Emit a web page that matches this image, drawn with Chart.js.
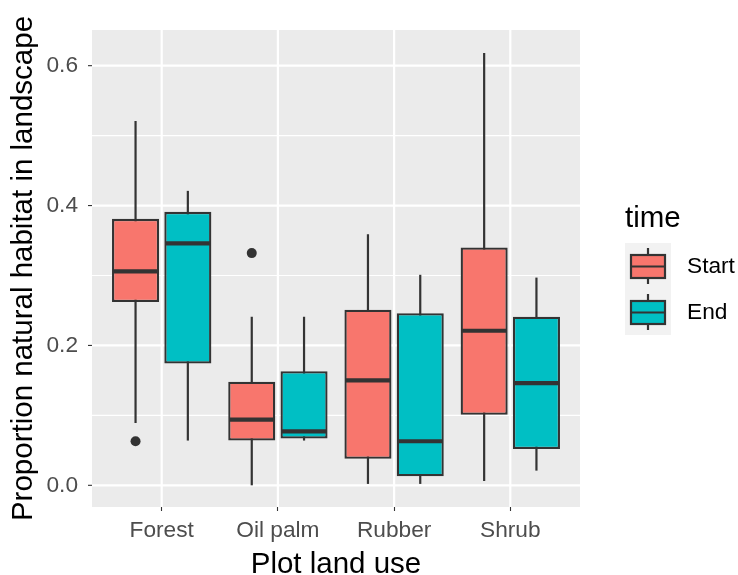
<!DOCTYPE html>
<html><head><meta charset="utf-8">
<script src="https://cdn.jsdelivr.net/npm/chart.js@4/dist/chart.umd.min.js"></script>
<style>html,body{margin:0;padding:0;background:#fff}#wrap{width:738px;height:575px}</style>
</head><body><div id="wrap"><canvas id="c" width="738" height="575"></canvas></div>
<script>
const categories = ['Forest', 'Oil palm', 'Rubber', 'Shrub'];
const seriesNames = ['Start', 'End'];
const startLower  = [0.089, 0.000, 0.002, 0.006];
const startQ1     = [0.262, 0.064, 0.038, 0.101];
const startMedian = [0.306, 0.094, 0.150, 0.221];
const startQ3     = [0.381, 0.148, 0.251, 0.340];
const startUpper  = [0.521, 0.241, 0.359, 0.618];
const startOutliers = [[0.063], [0.332], [], []];
const endLower  = [0.064, 0.064, 0.002, 0.021];
const endQ1     = [0.174, 0.067, 0.013, 0.052];
const endMedian = [0.346, 0.077, 0.063, 0.146];
const endQ3     = [0.391, 0.163, 0.246, 0.241];
const endUpper  = [0.421, 0.241, 0.301, 0.297];
const endOutliers = [[], [], [], []];
const yTicks = [0, 0.2, 0.4, 0.6];
const yMinor = [0.1, 0.3, 0.5];
const yTitle = 'Proportion natural habitat in landscape';
const xTitle = 'Plot land use';
const legendTitle = 'time';

const FONT = "'Liberation Sans', Arial, sans-serif";
const fills = ['#F8766D', '#00BFC4'];
const dark = '#333333';

const stats = [
  {lower: startLower, q1: startQ1, median: startMedian, q3: startQ3, upper: startUpper, out: startOutliers},
  {lower: endLower, q1: endQ1, median: endMedian, q3: endQ3, upper: endUpper, out: endOutliers}
];

const ggPlugin = {
  id: 'gg',
  beforeDraw(chart) {
    const ctx = chart.ctx, xs = chart.scales.x, ys = chart.scales.y, ca = chart.chartArea;
    const pl = xs.getPixelForValue(-0.6), pr = xs.getPixelForValue(categories.length - 0.4);
    ctx.save();
    ctx.fillStyle = '#EBEBEB';
    ctx.fillRect(pl, ca.top, pr - pl, ca.bottom - ca.top);
    ctx.strokeStyle = '#FFFFFF';
    ctx.lineWidth = 1.1;
    yMinor.forEach(v => { const y = ys.getPixelForValue(v); ctx.beginPath(); ctx.moveTo(pl, y); ctx.lineTo(pr, y); ctx.stroke(); });
    ctx.lineWidth = 2.2;
    yTicks.forEach(v => { const y = ys.getPixelForValue(v); ctx.beginPath(); ctx.moveTo(pl, y); ctx.lineTo(pr, y); ctx.stroke(); });
    categories.forEach((c, i) => { const x = xs.getPixelForValue(i); ctx.beginPath(); ctx.moveTo(x, ca.top); ctx.lineTo(x, ca.bottom); ctx.stroke(); });
    ctx.strokeStyle = dark; ctx.lineWidth = 1.1;
    yTicks.forEach(v => { const y = ys.getPixelForValue(v); ctx.beginPath(); ctx.moveTo(pl - 4, y); ctx.lineTo(pl, y); ctx.stroke(); });
    ctx.restore();
  },
  beforeDatasetsDraw(chart) {
    const ctx = chart.ctx, ys = chart.scales.y;
    ctx.save();
    ctx.strokeStyle = dark; ctx.lineWidth = 2.2;
    stats.forEach((s, d) => {
      chart.getDatasetMeta(d).data.forEach((el, i) => {
        ctx.beginPath();
        ctx.moveTo(el.x, ys.getPixelForValue(s.lower[i]));
        ctx.lineTo(el.x, ys.getPixelForValue(s.upper[i]));
        ctx.stroke();
      });
    });
    ctx.restore();
  },
  afterDatasetsDraw(chart) {
    const ctx = chart.ctx, ys = chart.scales.y;
    ctx.save();
    stats.forEach((s, d) => {
      chart.getDatasetMeta(d).data.forEach((el, i) => {
        const w = el.width / 2;
        ctx.strokeStyle = dark; ctx.lineWidth = 4.2;
        const y = ys.getPixelForValue(s.median[i]);
        ctx.beginPath(); ctx.moveTo(el.x - w + 1, y); ctx.lineTo(el.x + w - 1, y); ctx.stroke();
        ctx.fillStyle = dark;
        s.out[i].forEach(v => { ctx.beginPath(); ctx.arc(el.x, ys.getPixelForValue(v), 5, 0, Math.PI * 2); ctx.fill(); });
      });
    });
    ctx.restore();
  },
  afterDraw(chart) {
    const ctx = chart.ctx, xs = chart.scales.x, ca = chart.chartArea;
    const pl = xs.getPixelForValue(-0.6), pr = xs.getPixelForValue(categories.length - 0.4);
    ctx.save();
    ctx.fillStyle = '#000000';
    ctx.font = '29.5px ' + FONT;
    ctx.textAlign = 'center'; ctx.textBaseline = 'alphabetic';
    ctx.fillText(xTitle, (pl + pr) / 2, 573);
    ctx.save();
    ctx.translate(32, (ca.top + ca.bottom) / 2);
    ctx.rotate(-Math.PI / 2);
    ctx.fillText(yTitle, 0, 0);
    ctx.restore();
    // legend
    ctx.textAlign = 'left';
    ctx.fillText(legendTitle, 625, 227);
    seriesNames.forEach((name, i) => {
      const kx = 625, ky = 243 + i * 46, k = 46;
      ctx.fillStyle = '#F2F2F2';
      ctx.fillRect(kx, ky, k, k);
      ctx.strokeStyle = dark; ctx.lineWidth = 2.2;
      ctx.beginPath(); ctx.moveTo(kx + k / 2, ky + 5); ctx.lineTo(kx + k / 2, ky + k - 5); ctx.stroke();
      ctx.fillStyle = fills[i];
      ctx.fillRect(kx + 6, ky + 12, k - 12, 23);
      ctx.strokeRect(kx + 6, ky + 12, k - 12, 23);
      ctx.beginPath(); ctx.moveTo(kx + 6, ky + 23.5); ctx.lineTo(kx + k - 6, ky + 23.5); ctx.stroke();
      ctx.fillStyle = '#000000';
      ctx.font = '22.7px ' + FONT;
      ctx.textBaseline = 'middle';
      ctx.fillText(name, 687, ky + 24);
      ctx.textBaseline = 'alphabetic';
    });
    ctx.restore();
  }
};

new Chart(document.getElementById('c'), {
  type: 'bar',
  data: {
    labels: categories,
    datasets: stats.map((s, d) => ({
      label: seriesNames[d],
      data: s.q1.map((q, i) => [q, s.q3[i]]),
      backgroundColor: fills[d],
      borderColor: dark,
      borderWidth: 2.3,
      borderSkipped: false,
      categoryPercentage: 0.9,
      barPercentage: 0.9
    }))
  },
  options: {
    responsive: false,
    devicePixelRatio: 1,
    animation: false,
    events: [],
    layout: {padding: {top: 30, right: 169.6, left: 0, bottom: 0}},
    plugins: {legend: {display: false}, tooltip: {enabled: false}},
    scales: {
      x: {
        type: 'category',
        offset: true,
        border: {display: false},
        grid: {offset: false, drawOnChartArea: false, drawTicks: true, tickLength: 4, tickColor: dark, tickWidth: 1.1},
        ticks: {color: '#4D4D4D', font: {family: FONT, size: 22.7}, padding: 6, maxRotation: 0},
        afterFit: s => { s.height = 68; s.paddingLeft = 0; s.paddingRight = 0; }
      },
      y: {
        type: 'linear',
        min: -0.031,
        max: 0.651,
        border: {display: false},
        grid: {drawOnChartArea: false, drawTicks: false},
        afterBuildTicks: s => { s.ticks = yTicks.map(v => ({value: v})); },
        ticks: {color: '#4D4D4D', font: {family: FONT, size: 22.7}, padding: 25.6, callback: v => v.toFixed(1)},
        afterFit: s => { s.width = 103.6; s.paddingTop = 0; s.paddingBottom = 0; }
      }
    }
  },
  plugins: [ggPlugin]
});
</script></body></html>
